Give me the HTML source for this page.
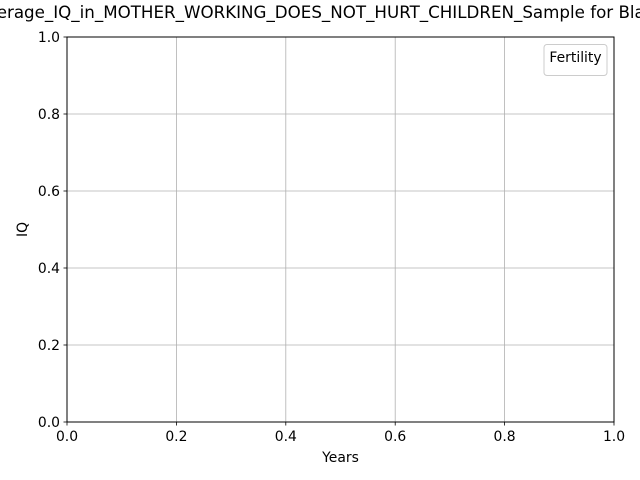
<!DOCTYPE html>
<html><head><meta charset="utf-8"><style>
html,body{margin:0;padding:0;background:#fff;}
svg{display:block;font-family:"DejaVu Sans","Liberation Sans",sans-serif;}
</style></head><body>
<svg id="chart" width="640" height="480" viewBox="0 0 640 480">
<rect x="0" y="0" width="640" height="480" fill="#fff"/>
<text x="320" y="18" font-size="16.7" text-anchor="middle" fill="#000">Average_IQ_in_MOTHER_WORKING_DOES_NOT_HURT_CHILDREN_Sample for Black</text>
<g id="grid"></g>
<g id="ticks"></g>
<rect x="67" y="37" width="547" height="385" fill="none" stroke="#000" stroke-width="1"/>
<text x="340.5" y="462" font-size="13.9" text-anchor="middle">Years</text>
<text transform="translate(27,229.5) rotate(-90)" font-size="13.9" text-anchor="middle">IQ</text>
<g>
<rect x="544" y="44.5" width="63" height="31" rx="3" fill="#fff" fill-opacity="0.8" stroke="#ccc" stroke-width="1"/>
<text x="575.5" y="62" font-size="13.9" text-anchor="middle">Fertility</text>
</g>
</svg>
<script>
const xTicks=[0.0,0.2,0.4,0.6,0.8,1.0];
const yTicks=[0.0,0.2,0.4,0.6,0.8,1.0];
const xLabels=["0.0","0.2","0.4","0.6","0.8","1.0"];
const yLabels=["0.0","0.2","0.4","0.6","0.8","1.0"];
const seriesYears=[];
const seriesIQ=[];
const NS="http://www.w3.org/2000/svg";
const X0=67,X1=614,Y0=422,Y1=37;
function sx(v){return X0+(X1-X0)*v;}
function sy(v){return Y0-(Y0-Y1)*v;}
const grid=document.getElementById('grid'),ticks=document.getElementById('ticks');
function mk(t,a,p){const e=document.createElementNS(NS,t);for(const k in a)e.setAttribute(k,a[k]);p.appendChild(e);return e;}
xTicks.forEach((v,i)=>{
 const x=sx(v);
 const g=mk('line',{x1:x,x2:x,y1:Y1,y2:Y0,stroke:'#b0b0b0','stroke-width':0.8},grid);
 
 
 const t=mk('line',{x1:x,x2:x,y1:Y0,y2:Y0+3.5,stroke:'#000','stroke-width':0.8},ticks);
 
 
 const l=mk('text',{x:x,y:Y0+19,'font-size':13.9,'text-anchor':'middle'},ticks);
 l.textContent=xLabels[i];
 
 
});
yTicks.forEach((v,i)=>{
 const y=sy(v);
 const g=mk('line',{x1:X0,x2:X1,y1:y,y2:y,stroke:'#b0b0b0','stroke-width':0.8},grid);
 
 
 const t=mk('line',{x1:X0-3.5,x2:X0,y1:y,y2:y,stroke:'#000','stroke-width':0.8},ticks);
 
 
 const l=mk('text',{x:X0-7,y:y+5,'font-size':13.9,'text-anchor':'end'},ticks);
 l.textContent=yLabels[i];
 
 
});
</script>
</body></html>
